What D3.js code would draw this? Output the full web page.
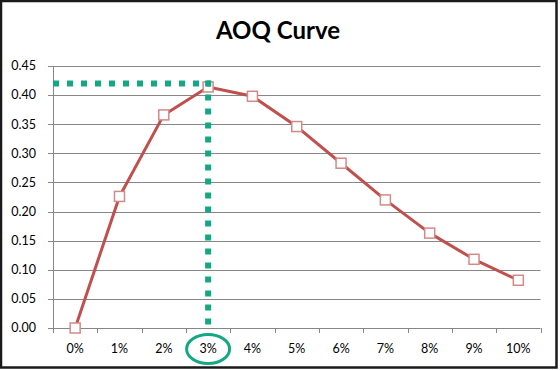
<!DOCTYPE html>
<html>
<head>
<meta charset="utf-8">
<style>
  body { margin: 0; background: #fff; }
  text { font-family: Lato, "Open Sans", sans-serif; }
</style>
</head>
<body></body>
<script src="https://d3js.org/d3.v7.min.js"></script>
<script>
  // data
  const categories = ['0%', '1%', '2%', '3%', '4%', '5%', '6%', '7%', '8%', '9%', '10%']
  const aoq = [0.000, 0.226, 0.366, 0.414, 0.398, 0.346, 0.283, 0.220, 0.163, 0.118, 0.082]
  const yTicks = [0, 0.05, 0.10, 0.15, 0.20, 0.25, 0.30, 0.35, 0.40, 0.45]
  const aoql = 0.42        // dotted guide level
  const aoqlAt = '3%'      // dotted guide category

  const width = 560
  const height = 370
  const margins = { top: 66, right: 20, bottom: 42, left: 53 }
  const teal = '#14a784'

  const svg = d3.select('body')
    .append('svg')
    .attr('width', width)
    .attr('height', height)

  // outer frame
  svg.append('rect')
    .attr('x', 1).attr('y', 1)
    .attr('width', 555.5).attr('height', 366.5)
    .attr('fill', '#fff')
    .attr('stroke', '#1a1a1a')
    .attr('stroke-width', 2.5)

  // title
  svg.append('text')
    .attr('x', 278)
    .attr('y', 39)
    .attr('text-anchor', 'middle')
    .attr('font-size', 24)
    .attr('font-weight', 'bold')
    .attr('fill', '#000')
    .text('AOQ Curve')

  const g = svg.append('g')
    .attr('transform', `translate(${margins.left}, ${margins.top})`)

  const w = 540.5 - margins.left
  const h = 328 - margins.top

  const x = d3.scaleBand()
    .domain(categories)
    .range([0, w])

  const y = d3.scaleLinear()
    .domain([0, 0.45])
    .range([h, 0])

  // gridlines + y ticks
  g.append('g')
    .selectAll('line')
    .data(yTicks)
    .enter().append('line')
    .attr('x1', -5)
    .attr('x2', w)
    .attr('y1', d => Math.round(y(d)) + 0.5)
    .attr('y2', d => Math.round(y(d)) + 0.5)
    .attr('stroke', '#878787')
    .attr('stroke-width', 1)

  // y labels
  g.append('g')
    .selectAll('text')
    .data(yTicks)
    .enter().append('text')
    .attr('x', -17)
    .attr('y', d => y(d))
    .attr('dy', '0.35em')
    .attr('text-anchor', 'end')
    .attr('font-size', 12.5)
    .attr('fill', '#000')
    .text(d => d3.format('.2f')(d))

  // y axis line
  g.append('line')
    .attr('x1', 0.5).attr('x2', 0.5)
    .attr('y1', 0).attr('y2', h + 5)
    .attr('stroke', '#878787')

  // x tick marks at band edges
  const edges = categories.map(c => x(c)).concat([w])
  g.append('g')
    .selectAll('line')
    .data(edges)
    .enter().append('line')
    .attr('x1', d => Math.round(d) + 0.5)
    .attr('x2', d => Math.round(d) + 0.5)
    .attr('y1', h)
    .attr('y2', h + 5)
    .attr('stroke', '#878787')

  // x labels
  g.append('g')
    .selectAll('text')
    .data(categories)
    .enter().append('text')
    .attr('x', d => x(d) + x.bandwidth() / 2)
    .attr('y', h + 25)
    .attr('text-anchor', 'middle')
    .attr('font-size', 12.5)
    .attr('fill', '#000')
    .text(d => d)

  // line
  const line = d3.line()
    .x((d, i) => x(categories[i]) + x.bandwidth() / 2)
    .y(d => y(d))

  g.append('path')
    .datum(aoq)
    .attr('d', line)
    .attr('fill', 'none')
    .attr('stroke', '#c0504d')
    .attr('stroke-width', 3)
    .attr('stroke-linejoin', 'round')

  // markers
  const ms = 10
  g.append('g')
    .selectAll('rect')
    .data(aoq)
    .enter().append('rect')
    .attr('x', (d, i) => x(categories[i]) + x.bandwidth() / 2 - ms / 2)
    .attr('y', d => y(d) - ms / 2)
    .attr('width', ms)
    .attr('height', ms)
    .attr('fill', '#fff')
    .attr('stroke', '#d28a88')
    .attr('stroke-width', 1.5)

  // dotted guides
  const gx = x(aoqlAt) + x.bandwidth() / 2
  g.append('line')
    .attr('x1', 0).attr('x2', gx + 3)
    .attr('y1', y(aoql)).attr('y2', y(aoql))
    .attr('stroke', teal)
    .attr('stroke-width', 6)
    .attr('stroke-dasharray', '6 8')
  g.append('line')
    .attr('x1', gx).attr('x2', gx)
    .attr('y1', y(aoql) - 3).attr('y2', h)
    .attr('stroke', teal)
    .attr('stroke-width', 6)
    .attr('stroke-dasharray', '6 8')

  // circle round the 3% label
  g.append('ellipse')
    .attr('cx', gx)
    .attr('cy', h + 21)
    .attr('rx', 21.5)
    .attr('ry', 14.5)
    .attr('fill', 'none')
    .attr('stroke', teal)
    .attr('stroke-width', 3)
</script>
</html>
